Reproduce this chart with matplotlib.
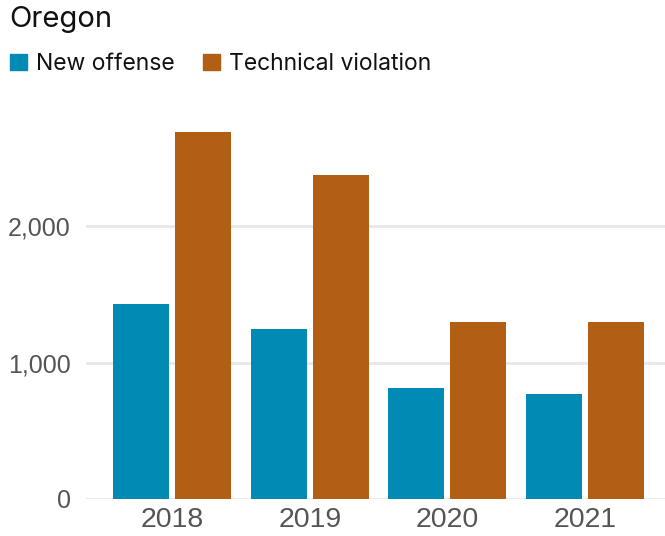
import matplotlib
matplotlib.use("Agg")
import matplotlib.pyplot as plt
import numpy as np
from matplotlib.patches import Patch

years = ["2018", "2019", "2020", "2021"]
new_offense = [1431, 1247, 814, 770]
technical_violation = [2692, 2377, 1299, 1299]
series_names = ["New offense", "Technical violation"]
yticks = [0, 1000, 2000]

blue = "#008AB4"
orange = "#B25E15"
grid_gray = "#E8E8E8"
tick_gray = "#555555"

W, H = 665, 536
fig = plt.figure(figsize=(W / 100, H / 100), dpi=100)

y_top = 2800
px_per_unit = 136.3 / 1000
ax_bottom_px = 499
ax_top_px = ax_bottom_px - y_top * px_per_unit
ax_left_px = 86
ax = fig.add_axes([ax_left_px / W, (H - ax_bottom_px) / H,
                   (W - ax_left_px) / W, (ax_bottom_px - ax_top_px) / H])

x = np.arange(len(years))
width = 0.407
offset = 0.225
ax.bar(x - offset, new_offense, width, color=blue, zorder=3)
ax.bar(x + offset, technical_violation, width, color=orange, zorder=3)

ax.set_xlim(-0.625, 3.58)
ax.set_ylim(0, y_top)
ax.set_yticks(yticks)
ax.set_yticklabels([f"{v:,}" for v in yticks])
ax.set_xticks(x)
ax.set_xticklabels(years)

for v in yticks:
    ax.axhline(v, color=grid_gray, lw=2, zorder=1)

for s in ax.spines.values():
    s.set_visible(False)
ax.tick_params(axis="y", length=0, pad=11, labelsize=18, labelcolor=tick_gray)
ax.tick_params(axis="x", length=0, pad=6, labelsize=20.5, labelcolor=tick_gray)
for lab in ax.get_xticklabels() + ax.get_yticklabels():
    lab.set_fontfamily("Liberation Sans")

fig.text(9 / W, 1 - 6 / H, "Oregon", fontsize=21, family="Inter",
         color="#111111", ha="left", va="top")

handles = [Patch(color=blue), Patch(color=orange)]
leg = fig.legend(handles, series_names, loc="upper left",
                 bbox_to_anchor=(-6 / W, 1 - 37 / H), ncol=2, frameon=False,
                 handlelength=0.75, handleheight=0.75, handletextpad=0.4,
                 columnspacing=1.2, borderaxespad=0.3,
                 prop={"family": "Inter", "size": 16.5})
for t in leg.get_texts():
    t.set_color("#111111")

fig.savefig("out.png", dpi=100)
